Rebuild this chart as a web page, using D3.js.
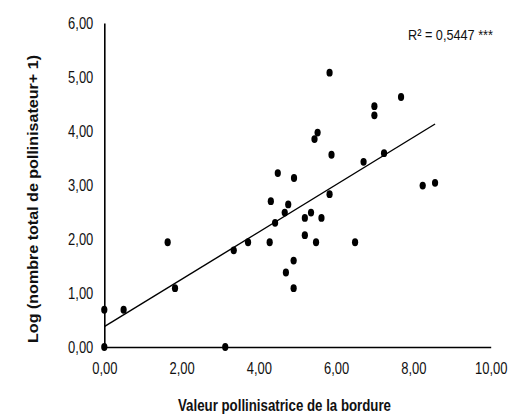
<!DOCTYPE html>
<html>
<head>
<meta charset="utf-8">
<script src="https://cdn.jsdelivr.net/npm/d3@7"></script>
<style>
  html, body { margin: 0; padding: 0; background: #fff; }
  svg { display: block; }
  text { font-family: "Liberation Sans", Arial, sans-serif; }
</style>
</head>
<body>
<svg id="chart" width="519" height="418"></svg>
<script>
// Data
const xValues = [0.00, 0.00, 0.50, 1.64, 1.83, 3.13, 3.35, 3.72, 4.28, 4.31, 4.42, 4.49,
                 4.67, 4.70, 4.76, 4.90, 4.90, 4.91, 5.19, 5.19, 5.35, 5.44, 5.48, 5.52,
                 5.62, 5.83, 5.83, 5.88, 6.49, 6.71, 6.99, 6.99, 7.24, 7.68, 8.24, 8.56];
const yValues = [0.00, 0.69, 0.69, 1.94, 1.09, 0.00, 1.79, 1.94, 1.94, 2.70, 2.30, 3.22,
                 2.49, 1.38, 2.64, 1.09, 1.60, 3.13, 2.07, 2.39, 2.49, 3.85, 1.94, 3.97,
                 2.39, 2.83, 5.08, 3.56, 1.94, 3.43, 4.29, 4.46, 3.59, 4.63, 2.99, 3.04];
const fitX = [0, 8.56];
const fitY = [0.376, 4.13];
const xTicks = [0, 2, 4, 6, 8, 10];
const yTicks = [0, 1, 2, 3, 4, 5, 6];
const xTitle = "Valeur pollinisatrice de la bordure";
const yTitle = "Log (nombre total de pollinisateur+ 1)";
const r2Label = "R² = 0,5447 ***";

const svg = d3.select("#chart");
const x = d3.scaleLinear().domain([0, 10]).range([104.3, 490.7]);
const y = d3.scaleLinear().domain([0, 6]).range([347, 23]);
const fmt = d => d.toFixed(2).replace(".", ",");

// condense text horizontally (reference uses a narrow typeface)
function condense(sel, factor) {
  sel.each(function () {
    const w = this.getComputedTextLength();
    d3.select(this).attr("textLength", w * factor).attr("lengthAdjust", "spacingAndGlyphs");
  });
}

const defs = svg.append("defs");
const f = defs.append("filter").attr("id", "blur").attr("x", "-20%").attr("y", "-200%").attr("width", "140%").attr("height", "500%");
f.append("feGaussianBlur").attr("stdDeviation", 2.2);

// axis shadows
svg.append("line")
  .attr("x1", x(0) + 3).attr("x2", x(10) + 2)
  .attr("y1", y(0) + 7).attr("y2", y(0) + 7)
  .attr("stroke", "#b8b8b8").attr("stroke-width", 7)
  .attr("filter", "url(#blur)");
svg.append("line")
  .attr("x1", x(0) + 3).attr("x2", x(0) + 3)
  .attr("y1", y(6) + 2).attr("y2", y(0))
  .attr("stroke", "#d0d0d0").attr("stroke-width", 2)
  .attr("filter", "url(#blur)");

// axes
const xAxis = svg.append("g")
  .attr("transform", `translate(0,${y(0)})`)
  .call(d3.axisBottom(x).tickValues(xTicks).tickFormat(fmt).tickSize(0).tickPadding(15.5));
const yAxis = svg.append("g")
  .attr("transform", `translate(${x(0)},0)`)
  .call(d3.axisLeft(y).tickValues(yTicks).tickFormat(fmt).tickSize(0).tickPadding(11));
[xAxis, yAxis].forEach(g => {
  g.attr("font-family", null).attr("font-size", null);
  g.select(".domain").attr("stroke", "#000").attr("stroke-width", 1.6);
  g.selectAll("text").attr("font-size", 16).attr("fill", "#111").call(condense, 0.81);
});

// regression line
svg.append("line")
  .attr("x1", x(fitX[0])).attr("y1", y(fitY[0]))
  .attr("x2", x(fitX[1])).attr("y2", y(fitY[1]))
  .attr("stroke", "#000").attr("stroke-width", 1.4);

// points
svg.append("g").selectAll("ellipse")
  .data(xValues.map((v, i) => [v, yValues[i]]))
  .join("ellipse")
  .attr("cx", d => x(d[0])).attr("cy", d => y(d[1]))
  .attr("rx", 3.1).attr("ry", 3.9)
  .attr("fill", "#000");

// texts
svg.append("text")
  .attr("x", 493).attr("y", 40)
  .attr("text-anchor", "end")
  .attr("font-size", 15.5).attr("fill", "#111")
  .attr("textLength", 85).attr("lengthAdjust", "spacingAndGlyphs")
  .text(r2Label);

svg.append("text")
  .attr("x", 284.5).attr("y", 410.5)
  .attr("text-anchor", "middle")
  .attr("font-size", 16).attr("font-weight", "bold").attr("fill", "#111")
  .attr("textLength", 213).attr("lengthAdjust", "spacingAndGlyphs")
  .text(xTitle);

svg.append("text")
  .attr("transform", "translate(37.8,199) rotate(-90)")
  .attr("text-anchor", "middle")
  .attr("font-size", 14.2).attr("font-weight", "bold").attr("fill", "#111")
  .attr("textLength", 288).attr("lengthAdjust", "spacingAndGlyphs")
  .text(yTitle);
</script>
</body>
</html>
